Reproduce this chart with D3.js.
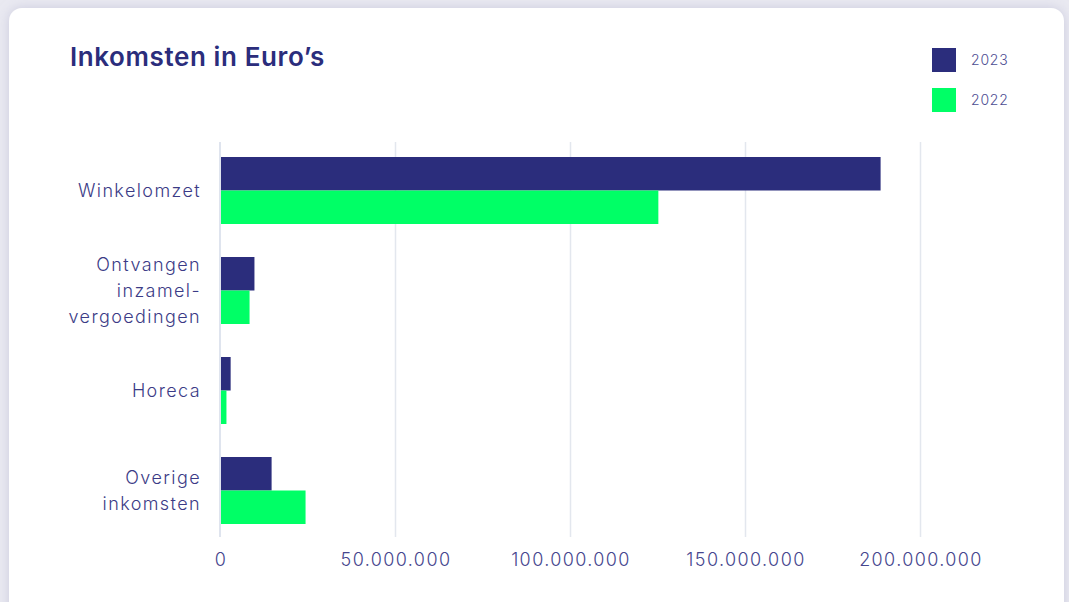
<!DOCTYPE html>
<html><head><meta charset="utf-8">
<script src="https://cdn.jsdelivr.net/npm/d3@7"></script>
<style>
html,body{margin:0;padding:0;background:#e9e9f1;}
svg{display:block;}
</style></head>
<body>
<svg id="chart" width="1069" height="602"></svg>
<script>
const categories = [["Winkelomzet"], ["Ontvangen","inzamel-","vergoedingen"], ["Horeca"], ["Overige","inkomsten"]];
const categoryKeys = ["Winkelomzet","Ontvangen inzamelvergoedingen","Horeca","Overige inkomsten"];
const seriesNames = ["2023","2022"];
const values2023 = [188600000, 9700000, 2900000, 14600000];
const values2022 = [125100000, 8300000, 1700000, 24300000];
const tickValues = [0, 50000000, 100000000, 150000000, 200000000];
const colors = ["#2b2d7c","#00ff66"];

const svg = d3.select("#chart");
const defs = svg.append("defs");
const f = defs.append("filter").attr("id","sh").attr("x","-5%").attr("y","-5%").attr("width","110%").attr("height","110%");
f.append("feDropShadow").attr("dx",0).attr("dy",0).attr("stdDeviation",6).attr("flood-color","#b8b8d0").attr("flood-opacity",0.6);

svg.append("rect").attr("x",9).attr("y",8).attr("width",1055).attr("height",640).attr("rx",13).attr("fill","#fff").attr("filter","url(#sh)");

svg.append("text").attr("x",70).attr("y",66).text("Inkomsten in Euro\u2019s")
  .attr("font-family","Inter, 'Open Sans', sans-serif").attr("font-weight",600).attr("font-size",26).attr("letter-spacing","0.6px").attr("fill","#2b2d7c");

const x = d3.scaleLinear().domain([0,200000000]).range([220.5,920.5]);
const y = d3.scaleBand().domain(categoryKeys).range([140,541]).paddingInner(0.33).paddingOuter(0.17);
const ySub = d3.scaleBand().domain(seriesNames).range([0,y.bandwidth()]);

// grid
svg.append("g").selectAll("line").data(tickValues.slice(1)).join("line")
  .attr("x1",d=>x(d)).attr("x2",d=>x(d)).attr("y1",142).attr("y2",537)
  .attr("stroke","#e3e7ee").attr("stroke-width",1.5);

const fmt = d => d3.format(",")(d).replace(/,/g,".");
const xAxis = svg.append("g").attr("transform","translate(0,537)")
  .call(d3.axisBottom(x).tickValues(tickValues).tickFormat(fmt).tickSize(0).tickPadding(16));
xAxis.select(".domain").remove();
xAxis.selectAll("text").attr("font-family","Inter, sans-serif").attr("font-weight",300).attr("font-size",18).attr("letter-spacing","1.4px").attr("fill","#46468e");

// bars
const data = categoryKeys.map((k,i)=>({k, vals:[values2023[i], values2022[i]]}));
const g = svg.append("g");
data.forEach(d=>{
  g.selectAll(null).data(d.vals).join("rect")
    .attr("x",x(0)).attr("y",(v,j)=>y(d.k)+ySub(seriesNames[j]))
    .attr("width",v=>x(v)-x(0)).attr("height",ySub.bandwidth())
    .attr("fill",(v,j)=>colors[j]);
});

// y axis line
svg.append("line").attr("x1",220).attr("x2",220).attr("y1",142).attr("y2",537).attr("stroke","#dfe4ee").attr("stroke-width",2);

// y labels
const lh = 26;
const yl = svg.append("g");
categories.forEach((lines,i)=>{
  const cy = y(categoryKeys[i]) + y.bandwidth()/2;
  const t = yl.append("text").attr("text-anchor","end")
    .attr("font-family","Inter, sans-serif").attr("font-weight",300).attr("font-size",18).attr("letter-spacing","1.4px").attr("fill","#3b3b86");
  lines.forEach((ln,j)=>{
    t.append("tspan").attr("x",201).attr("y", cy + (j-(lines.length-1)/2)*lh).attr("dy","0.35em").text(ln);
  });
});

// legend
const lg = svg.append("g");
seriesNames.forEach((s,i)=>{
  lg.append("rect").attr("x",932).attr("y",48+i*40).attr("width",24).attr("height",24).attr("fill",colors[i]);
  lg.append("text").attr("x",971).attr("y",60+i*40).attr("dy","0.35em").text(s)
    .attr("font-family","Inter, sans-serif").attr("font-weight",300).attr("font-size",14).attr("letter-spacing","0.8px").attr("fill","#4d4d92");
});
</script>
</body></html>
